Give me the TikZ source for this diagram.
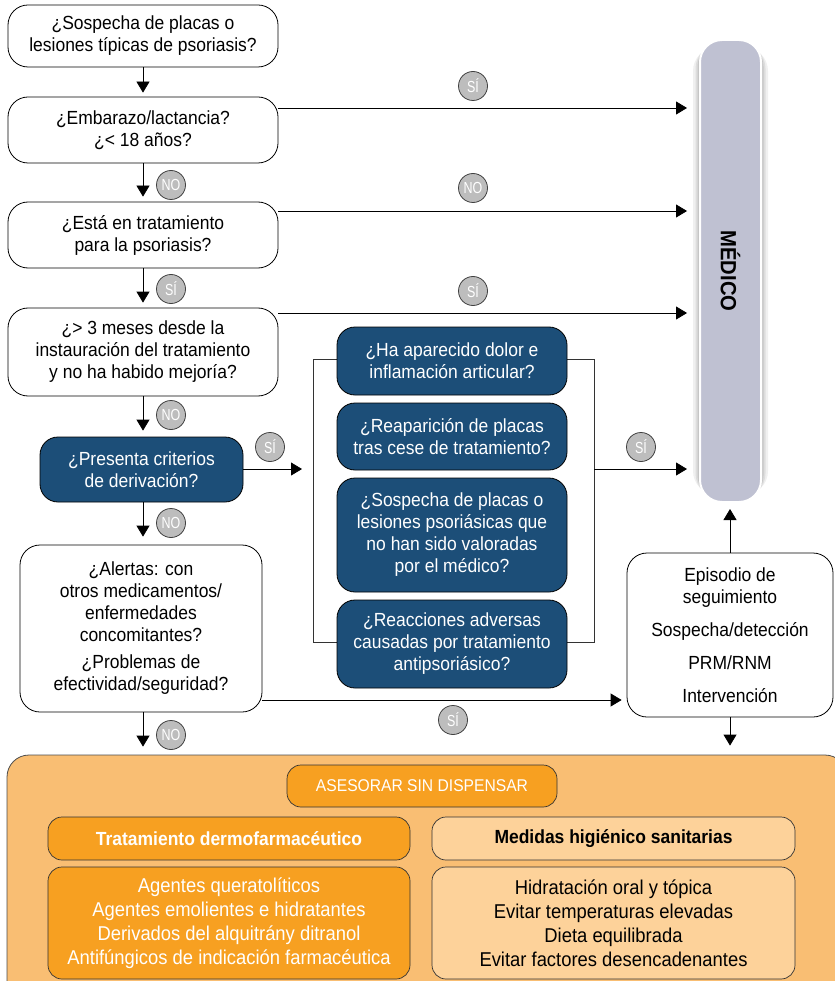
\documentclass[tikz,border=0pt]{standalone}
\usepackage{fontspec}
\setmainfont[FakeStretch=0.92]{Liberation Sans}
\usetikzlibrary{arrows.meta,calc}
\definecolor{dblue}{HTML}{1C4E78}
\definecolor{lav}{HTML}{BFC1D2}
\definecolor{obg}{HTML}{F9BE73}
\definecolor{oor}{HTML}{F7A021}
\definecolor{olt}{HTML}{FDD29A}
\definecolor{cgray}{HTML}{BDBDBD}
\newcommand{\fs}{\fontsize{19}{22}\selectfont}
\newcommand{\fb}{\fontsize{20}{24}\selectfont}
\begin{document}
\begin{tikzpicture}[x=1pt,y=-1pt,
  wbox/.style={draw=black, fill=white, rounded corners=20pt, line width=0.8pt, align=center, font=\fs, inner sep=1pt},
  dbox/.style={draw=black, fill=dblue, text=white, rounded corners=18pt, line width=0.8pt, align=center, font=\fs, inner sep=1pt, minimum width=230pt},
  obox/.style={draw=black!80, fill=oor, text=white, rounded corners=14pt, line width=0.7pt, align=center, font=\fs, inner sep=1pt},
  lbox/.style={draw=black!80, fill=olt, text=black, rounded corners=14pt, line width=0.7pt, align=center, font=\fs, inner sep=1pt},
  yn/.style={circle, draw=black!75, fill=cgray, minimum size=29pt, inner sep=0pt, text=white, line width=0.8pt, font=\fontsize{16}{16}\selectfont\addfontfeatures{FakeStretch=0.78}},
  arr/.style={-{Triangle[width=13pt,length=11pt]}, line width=0.8pt},
  ln/.style={line width=0.8pt, draw=black!80}]
\useasboundingbox (0,0) rectangle (834,981);

% bottom orange area
\node[draw=black!70, fill=obg, rounded corners=22pt, line width=0.8pt, minimum width=840pt, minimum height=250pt, inner sep=0pt] (bottom) at (427,880) {};

% MEDICO
\foreach \o/\w in {0.06/7pt,0.08/4.5pt,0.10/2.5pt}
  \fill[black, opacity=\o, rounded corners=24pt] ($(700,40)+(-\w,-\w)$) rectangle ($(761,502)+(\w,\w)$);
\node[draw=white, line width=2pt, fill=lav, rounded corners=22pt, minimum width=61pt, minimum height=462pt, inner sep=0pt] (medico) at (730.5,271) {};
\node[rotate=-90, font=\fontsize{22}{22}\selectfont\bfseries] at (medico.center) {MÉDICO};

% left column
\node[wbox, minimum width=270pt, minimum height=62pt] (b1) at (143,36) {¿Sospecha de placas o\\lesiones típicas de psoriasis?};
\node[wbox, minimum width=270pt, minimum height=66pt] (b2) at (143,130) {¿Embarazo/lactancia?\\¿< 18 años?};
\node[wbox, minimum width=270pt, minimum height=66pt] (b3) at (143,235) {¿Está en tratamiento\\para la psoriasis?};
\node[wbox, minimum width=270pt, minimum height=88pt] (b4) at (143,352) {¿> 3 meses desde la\\instauración del tratamiento\\y no ha habido mejoría?};
\node[dbox, minimum width=203pt, minimum height=65pt] (b5) at (141.5,469.5) {¿Presenta criterios\\de derivación?};
\node[wbox, minimum width=242pt, minimum height=167pt] (b6) at (141,628.5) {¿Alertas: con\\otros medicamentos/\\enfermedades\\concomitantes?\\[5pt]¿Problemas de\\efectividad/seguridad?};

% middle
\coordinate (brl) at (313,469);
\coordinate (brr) at (594,469);
\draw[ln] (337,359) -- (313,359) -- (313,642) -- (337,642);
\draw[ln] (567,359) -- (594,359) -- (594,642) -- (567,642);
\node[dbox, minimum height=68pt] (d1) at (452,361) {¿Ha aparecido dolor e\\inflamación articular?};
\node[dbox, minimum height=67pt] (d2) at (452,436.5) {¿Reaparición de placas\\tras cese de tratamiento?};
\node[dbox, minimum height=114pt] (d3) at (452,535) {¿Sospecha de placas o\\lesiones psoriásicas que\\no han sido valoradas\\por el médico?};
\node[dbox, minimum height=88pt] (d4) at (452,644) {¿Reacciones adversas\\causadas por tratamiento\\antipsoriásico?};

% episodio
\node[wbox, minimum width=206pt, minimum height=164pt] (ep) at (730,635) {Episodio de\\seguimiento\\[11pt]Sospecha/detección\\[11pt]PRM/RNM\\[11pt]Intervención};

% bottom content
\node[obox, minimum width=270pt, minimum height=42pt, font=\fontsize{17}{20}\selectfont] (ase) at (422,786) {ASESORAR SIN DISPENSAR};
\node[obox, minimum width=362pt, minimum height=43pt, font=\fontsize{19}{22}\selectfont\bfseries] (trat) at (229,838.5) {Tratamiento dermofarmacéutico};
\node[lbox, minimum width=363pt, minimum height=43pt, font=\fontsize{19}{22}\selectfont\bfseries] (med) at (613.5,838.5) {Medidas higiénico sanitarias};
\node[obox, minimum width=362pt, minimum height=112pt, font=\fb] (ag) at (229,923) {Agentes queratolíticos\\Agentes emolientes e hidratantes\\Derivados del alquitrány ditranol\\Antifúngicos de indicación farmacéutica};
\node[lbox, minimum width=363pt, minimum height=112pt, font=\fb] (hid) at (613.5,923) {Hidratación oral y tópica\\Evitar temperaturas elevadas\\Dieta equilibrada\\Evitar factores desencadenantes};

% vertical arrows
\draw[arr, shorten >=4pt] (b1.south) -- (b2.north);
\draw[arr, shorten >=5pt] (b2.south) -- (b3.north);
\draw[arr, shorten >=5pt] (b3.south) -- (b4.north);
\draw[arr, shorten >=6pt] (b4.south) -- (b4.south |- b5.north);
\draw[arr, shorten >=8pt] (b5.south -| b4.south) -- (b4.south |- b6.north);
\draw[arr, shorten >=8pt] (b4.south |- b6.south) -- (b4.south |- bottom.north);
\draw[arr, shorten >=9pt] (ep.south) -- (ep.south |- bottom.north);
\draw[arr, shorten >=6pt] (ep.north) -- (ep.north |- medico.south);

% horizontal arrows
\coordinate (h1) at (278,108);
\coordinate (h2) at (278,211);
\coordinate (h3) at (278,313);
\coordinate (h6) at (262,700);
\draw[arr, shorten >=12pt] (h1) -- (medico.west |- h1);
\draw[arr, shorten >=12pt] (h2) -- (medico.west |- h2);
\draw[arr, shorten >=12pt] (h3) -- (medico.west |- h3);
\draw[arr, shorten >=11pt] (b5.east |- brl) -- (brl);
\draw[arr, shorten >=12pt] (brr) -- (medico.west |- brr);
\draw[arr, shorten >=5pt] (h6) -- (ep.west |- h6);

% yes/no circles
\node[yn] at (473,86) {SÍ};
\node[yn] at (171,185) {NO};
\node[yn] at (473,188) {NO};
\node[yn] at (171,289) {SÍ};
\node[yn] at (473,291) {SÍ};
\node[yn] at (171,415) {NO};
\node[yn] at (270,447) {SÍ};
\node[yn] at (171,523) {NO};
\node[yn] at (641,447) {SÍ};
\node[yn] at (453,720) {SÍ};
\node[yn] at (171,735) {NO};
\end{tikzpicture}
\end{document}
